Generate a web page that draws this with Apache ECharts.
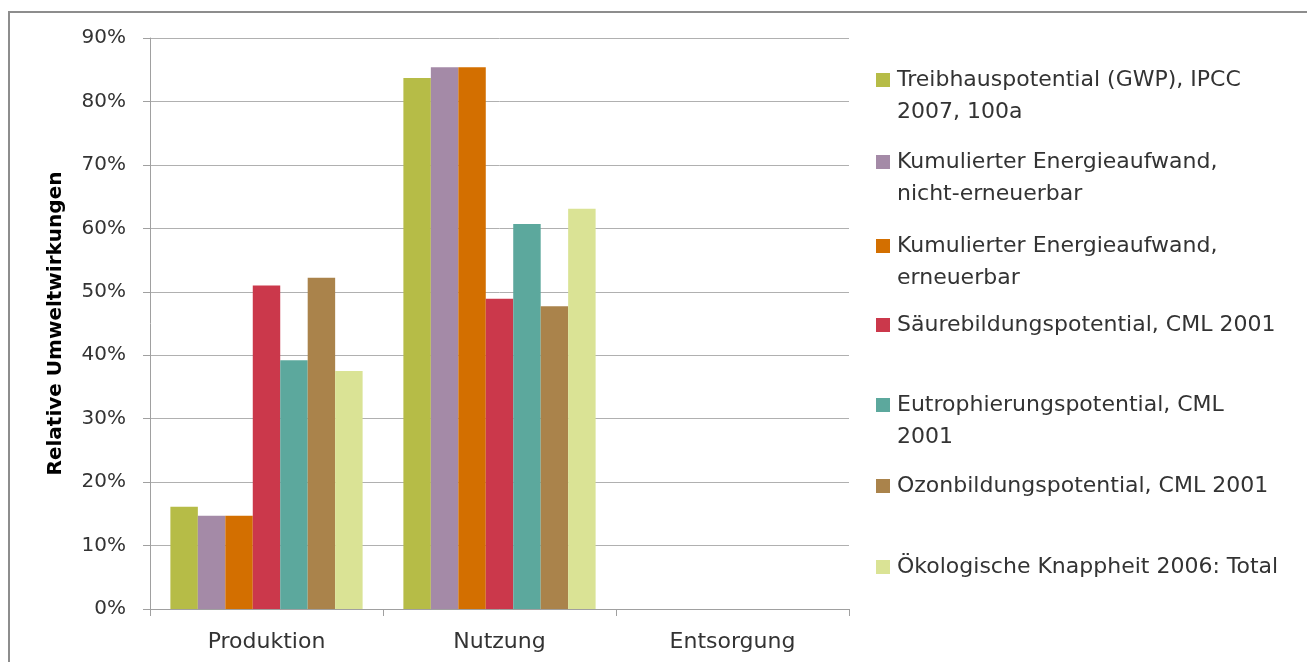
<!DOCTYPE html>
<html>
<head>
<meta charset="utf-8">
<script src="https://cdn.jsdelivr.net/npm/echarts@6/dist/echarts.min.js"></script>
<style>html,body{margin:0;padding:0;background:#fff}#c{width:1307px;height:662px}</style>
</head>
<body>
<div id="c"></div>
<script>
var categories = ['Produktion', 'Nutzung', 'Entsorgung'];
var seriesNames = [
  'Treibhauspotential (GWP), IPCC 2007, 100a',
  'Kumulierter Energieaufwand, nicht-erneuerbar',
  'Kumulierter Energieaufwand, erneuerbar',
  'Säurebildungspotential, CML 2001',
  'Eutrophierungspotential, CML 2001',
  'Ozonbildungspotential, CML 2001',
  'Ökologische Knappheit 2006: Total'
];
var legendLines = [
  ['Treibhauspotential (GWP), IPCC', '2007, 100a'],
  ['Kumulierter Energieaufwand,', 'nicht-erneuerbar'],
  ['Kumulierter Energieaufwand,', 'erneuerbar'],
  ['Säurebildungspotential, CML 2001'],
  ['Eutrophierungspotential, CML', '2001'],
  ['Ozonbildungspotential, CML 2001'],
  ['Ökologische Knappheit 2006: Total']
];
var gwp        = [0.161, 0.837, 0];
var kedNicht   = [0.147, 0.854, 0];
var kedErn     = [0.147, 0.854, 0];
var saeure     = [0.510, 0.489, 0];
var eutro      = [0.392, 0.607, 0];
var ozon       = [0.522, 0.477, 0];
var oekoTotal  = [0.375, 0.631, 0];
var yTicks = [0, 0.1, 0.2, 0.3, 0.4, 0.5, 0.6, 0.7, 0.8, 0.9];

var values = [gwp, kedNicht, kedErn, saeure, eutro, ozon, oekoTotal];
var colors = ['#b6bc47', '#a48aa7', '#d36f00', '#cb384b', '#5ca89d', '#aa834b', '#dae395'];
var legendCenters = [80, 162, 246, 325, 405, 486, 567];

var chart = echarts.init(document.getElementById('c'));
var FONT = 'DejaVu Sans';
var LH = 32;
var legends = seriesNames.map(function (n, i) {
  var two = legendLines[i].length > 1;
  return {
    data: [n],
    orient: 'vertical',
    left: 876,
    top: legendCenters[i] - (two ? LH * 1.5 : LH / 2),
    padding: 0,
    itemWidth: 14,
    itemHeight: 14,
    itemGap: 10,
    icon: 'rect',
    selectedMode: false,
    formatter: function () {
      return two ? '\u00a0\n' + legendLines[i].join('\n') : legendLines[i][0];
    },
    textStyle: {
      fontFamily: FONT, fontSize: 22, color: '#333',
      lineHeight: LH, padding: [0, 0, 0, 2]
    }
  };
});

chart.setOption({
  animation: false,
  backgroundColor: '#fff',
  textStyle: { fontFamily: FONT },
  graphic: [{
    type: 'rect', shape: { x: 9, y: 12, width: 1400, height: 700 },
    style: { fill: 'none', stroke: '#8d8d8d', lineWidth: 2 }, z: 100
  }],
  legend: legends,
  grid: { left: 150, right: 458, top: 38, bottom: 53 },
  xAxis: {
    type: 'category', data: categories,
    axisLine: { lineStyle: { color: '#a0a0a0', width: 1 } },
    axisTick: { show: true, length: 7, lineStyle: { color: '#a0a0a0' } },
    axisLabel: { fontFamily: FONT, fontSize: 22, color: '#333', margin: 22 }
  },
  yAxis: {
    type: 'value', min: 0, max: 0.9, interval: 0.1,
    name: 'Relative Umweltwirkungen', nameLocation: 'middle', nameGap: 84,
    nameTextStyle: { fontFamily: FONT, fontSize: 20, fontWeight: 'bold', color: '#000' },
    axisLine: { show: true, lineStyle: { color: '#a0a0a0' } },
    axisTick: { show: true, length: 7, lineStyle: { color: '#a0a0a0' } },
    splitLine: { lineStyle: { color: '#b0b0b0', width: 1 } },
    axisLabel: {
      fontFamily: FONT, fontSize: 20, color: '#333', margin: 24,
      formatter: function (v) {
        var t = yTicks.filter(function (x) { return Math.abs(x - v) < 1e-9; })[0];
        return Math.round((t !== undefined ? t : v) * 100) + '%';
      }
    }
  },
  series: seriesNames.map(function (n, i) {
    return {
      name: n, type: 'bar', data: values[i],
      itemStyle: { color: colors[i] },
      barGap: '0%', barCategoryGap: '17.5%'
    };
  })
});
</script>
</body>
</html>
